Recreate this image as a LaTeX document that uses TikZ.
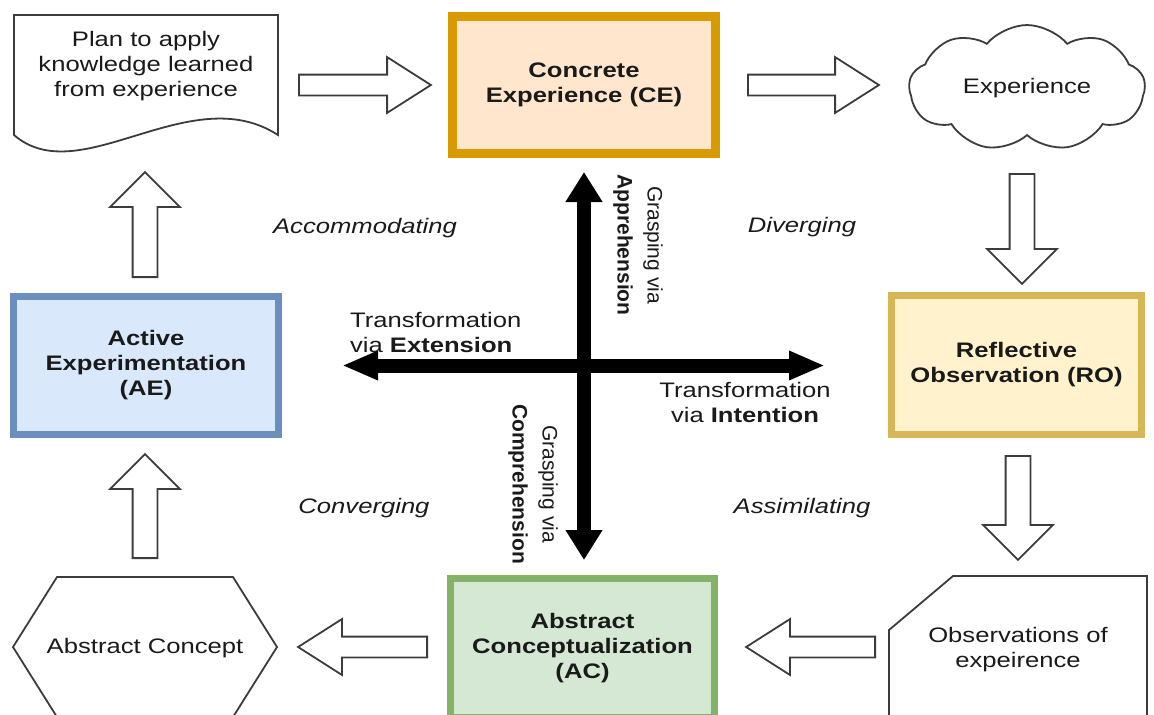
\documentclass[tikz,border=0pt]{standalone}
\usepackage{fontspec}
\setmainfont{Liberation Sans}[FakeStretch=1.22]
\newfontfamily\rotfont{Liberation Sans}
\usetikzlibrary{positioning,arrows.meta,calc,shapes.arrows,shapes.symbols}
\definecolor{txt}{RGB}{26,26,26}
\definecolor{edge}{RGB}{60,60,60}
\definecolor{ceedge}{HTML}{D79B00}
\definecolor{cefill}{HTML}{FFE6CC}
\definecolor{roedge}{HTML}{D6B656}
\definecolor{rofill}{HTML}{FFF2CC}
\definecolor{aeedge}{HTML}{6C8EBF}
\definecolor{aefill}{HTML}{DAE8FC}
\definecolor{acedge}{HTML}{82B366}
\definecolor{acfill}{HTML}{D5E8D4}
\newcommand{\diagfont}{\fontsize{10.5}{12.5}\selectfont}

\begin{document}
\begin{tikzpicture}[x=0.5pt, y=-0.5pt,
    box/.style={draw, align=center, font=\diagfont\bfseries, text=txt, inner sep=0pt},
    lbl/.style={align=center, font=\diagfont, text=txt},
    mode/.style={font=\diagfont\itshape, text=txt},
    rot/.style={align=center, rotate=-90, text=txt, font=\rotfont\fontsize{10.5}{15}\selectfont},
    shapeln/.style={draw=edge, line width=0.9pt, fill=white},
    hollow/.style={single arrow, anchor=tail, draw=edge, fill=white, line width=0.9pt, inner xsep=0pt,
                   inner ysep=4.75pt, text height=0pt, text depth=0pt,
                   single arrow head extend=8.75pt, single arrow tip angle=65},
    hollowv/.style={hollow, inner ysep=5.75pt, single arrow head extend=11.25pt,
                    single arrow tip angle=90},
    axis/.style={line width=7pt, draw=black}]
  \path[use as bounding box, fill=white] (0,0) rectangle (1154,714);
  \clip (0,0) rectangle (1154,714);

  % top row
  \draw[shapeln] (14,15) -- (278,15) -- (278,135) .. controls (190,78) and (80,192) .. (14,135) -- cycle;
  \node[lbl] (plan) at (146,66) {Plan to apply\\knowledge learned\\from experience};
  \node[box, draw=ceedge, fill=cefill, line width=4.5pt, minimum width=131.5pt, minimum height=68.5pt] (ce) at (584,85) {Concrete\\Experience (CE)};
  \node[cloud, cloud puffs=9, cloud puff arc=100, aspect=2, shapeln, minimum width=118pt, minimum height=58pt, font=\diagfont, text=txt] (cloud) at (1027,88) {Experience};

  % middle row
  \node[box, draw=aeedge, fill=aefill, line width=3.5pt, minimum width=132.5pt, minimum height=69pt] (ae) at (146,365.5) {Active\\Experimentation\\(AE)};
  \node[box, draw=roedge, fill=rofill, line width=3.5pt, minimum width=125pt, minimum height=69.5pt] (ro) at (1016.5,365) {Reflective\\Observation (RO)};

  % bottom row
  \node[box, draw=acedge, fill=acfill, line width=3.5pt, minimum width=132pt, minimum height=69.5pt] (ac) at (582.5,648) {Abstract\\Conceptualization\\(AC)};
  \draw[shapeln] (13,647) -- (57,577) -- (233,577) -- (277,647) -- (233,717) -- (57,717) -- cycle;
  \node[lbl] (concept) at (145,648) {Abstract Concept};
  \draw[shapeln] (889,630) -- (953,576) -- (1147,576) -- (1147,730) -- (889,730) -- cycle;
  \node[lbl] (obs) at (1018,650) {Observations of\\expeirence};

  % hollow block arrows, placed by their tails
  \node[hollow, minimum height=66pt] (a1) at (298,85) {};
  \node[hollow, minimum height=65.5pt] (a2) at (747,85) {};
  \node[hollowv, minimum height=55pt, rotate=-90] (a3) at (1022,173) {};
  \node[hollowv, minimum height=52pt, rotate=-90] (a4) at (1018,455) {};
  \node[hollow, minimum height=64.5pt, rotate=180] (a5) at (876,647) {};
  \node[hollow, minimum height=64.5pt, rotate=180] (a6) at (428,647) {};
  \node[hollowv, minimum height=52pt, rotate=90] (a7) at (145,559) {};
  \node[hollowv, minimum height=52.5pt, rotate=90] (a8) at (145,278) {};

  % learning styles
  \node[mode] (accom) at (365,228) {Accommodating};
  \node[mode] (diver) at (802,227) {Diverging};
  \node[mode] (conv) at (364,508) {Converging};
  \node[mode] (assim) at (802,508) {Assimilating};

  % the two axes
  \draw[axis, {Triangle[length=15pt,width=17.5pt]}-{Triangle[length=15pt,width=17.5pt]},
        shorten <=7pt, shorten >=7.5pt] (ce.south) -- (ce.south |- ac.north);
  \draw[axis, {Triangle[length=18pt,width=13.5pt]}-{Triangle[length=18pt,width=13.5pt]},
        shorten <=30pt, shorten >=31.5pt] (ae.east) -- (ae.east -| ro.west);
  \node[lbl, align=left, anchor=west] (ext) at (343,332.5) {Transformation\\via \textbf{Extension}};
  \node[lbl] (int) at (745,402.5) {Transformation\\via \textbf{Intention}};
  \node[rot] (appr) at (638,245) {Grasping via\\\textbf{Apprehension}};
  \node[rot] (comp) at (533,484) {Grasping via\\\textbf{Comprehension}};
\end{tikzpicture}
\end{document}
